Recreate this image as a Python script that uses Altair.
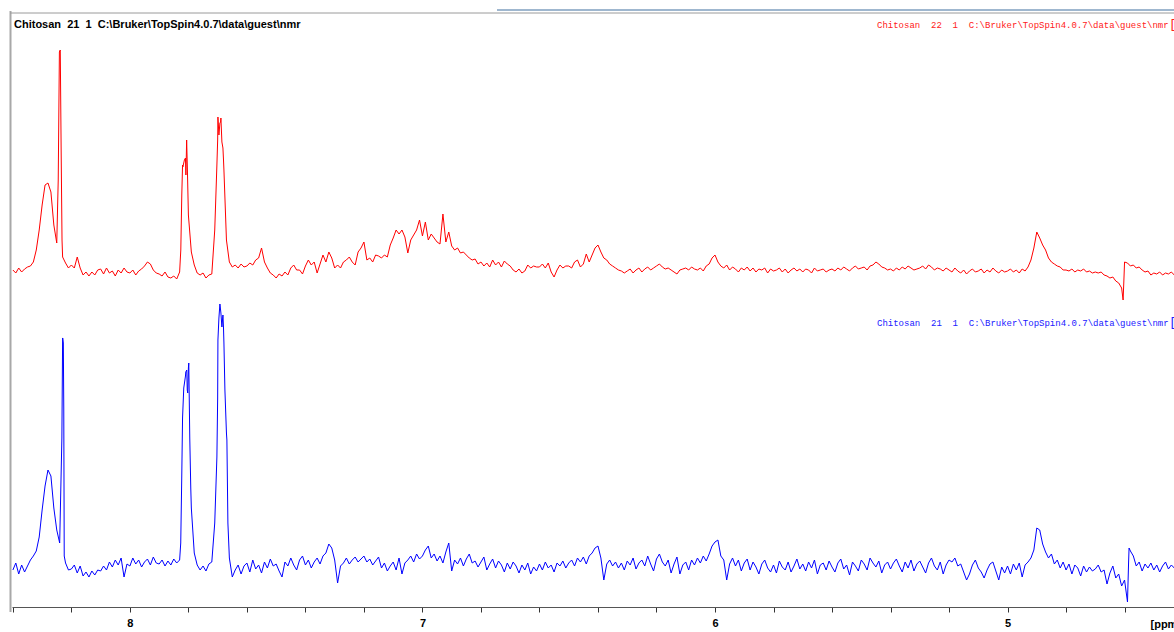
import altair as alt
import numpy as np
import pandas as pd

# ---- spectrum data (intensity above each trace's own baseline), ppm grid 8.40 -> 4.43 step 0.01
PPM_START = 8.40
PPM_STEP = 0.01

red_grid = [
    0, -3, 2, -2, 1, 3, 4, 8, 20, 40,
    65, 85, 87, 78, 45, 27, 219, 13, 7, 2,
    5, 2, 13, 2, -5, -2, -6, -2, -5, 0,
    1, -4, 2, -3, -1, -6, 0, -3, 2, -2,
    -3, 0, -5, -1, 1, 4, 8, 6, 0, -3,
    -4, -6, -2, -7, -8, -6, -9, -2, 105, 112,
    55, 18, 5, -3, -5, -3, -8, -5, -4, 40,
    130, 148, 110, 30, 8, 3, 5, 2, 6, 3,
    4, 7, 5, 10, 12, 22, 8, 2, -3, -5,
    -8, -4, -6, -2, -5, 2, 5, 0, 0, -4,
    4, 10, 5, 8, -3, 6, 15, 8, 18, 12,
    2, 5, 2, 8, 10, 13, 8, 5, 18, 22,
    28, 10, 12, 8, 15, 14, 12, 15, 13, 25,
    32, 40, 36, 40, 33, 17, 30, 35, 40, 50,
    34, 48, 30, 36, 32, 28, 26, 56, 28, 38,
    24, 20, 22, 17, 18, 15, 12, 10, 11, 6,
    8, 4, 7, 3, 10, 5, 8, 3, 9, 6,
    4, 0, -2, 1, -3, -1, 5, 2, 4, 3,
    3, 6, 2, 7, -2, -7, 0, 5, 2, 4,
    4, 2, 8, 10, 3, 6, 16, 8, 15, 22,
    25, 18, 12, 10, 6, 4, 2, 0, -1, -3,
    -1, 1, -3, 0, 2, -2, 1, 3, 0, 2,
    4, 6, 3, 1, 2, 0, -2, -4, 0, 1,
    2, 0, 3, 1, 0, 2, -1, 4, 6, 12,
    15, 8, 4, 2, 5, 0, 3, 1, -2, 2,
    0, 3, -1, 2, -2, 1, 0, 2, -3, 1,
    -1, 0, 2, -2, 1, -3, 0, 2, -1, 1,
    -2, 1, 0, -3, 2, -1, 0, 1, -2, 0,
    1, -1, 2, 0, 3, 1, -1, 2, 4, 1,
    2, 3, 0, 4, 5, 8, 6, 3, 2, 0,
    1, -1, 2, 0, 3, 1, 4, 2, 0, 1,
    2, 4, 1, 5, 3, 0, 2, 1, -1, 2,
    0, -2, 2, -1, -3, 0, -4, -1, 1, -2,
    -1, 1, -3, 0, -2, 2, -1, -3, 0, -2,
    -1, 1, -2, 0, -3, 1, -1, 3, 10, 22,
    38, 32, 25, 20, 12, 8, 6, 4, 3, 0,
    0, -1, 1, -2, 0, -1, 1, -2, -1, -3,
    -2, -3, -2, -5, -6, -8, -7, -11, -13, -18,
    8, 7, 4, 5, 2, 3, 0, -2, -1, -5,
    -3, -4, -2, -5, -3, -4, -2, -5,
]

red_extra_ppm = [8.245, 8.241, 8.238, 8.235, 8.232,
                 7.826, 7.8226, 7.819, 7.8137, 7.8085, 7.806, 7.8034,
                 7.7026, 7.6991, 7.6957, 7.6923, 7.6889, 7.6855, 7.682, 7.6786,
                 4.605, 4.602]
red_extra_int = [90, 218, 220, 120, 30,
                 20, 75, 103, 110, 95, 130, 100,
                 105, 153, 135, 147, 152, 128, 122, 100,
                 -30, -8]

blue_grid = [
    -2, 5, -6, 3, -4, 2, 8, 12, 17, 31,
    58, 82, 98, 92, 60, 38, 25, 230, 5, -2,
    -1, 3, -5, 2, -8, -4, -9, -3, -7, -2,
    -3, 2, -2, 6, 1, 8, 3, 10, -9, 4,
    2, 10, 4, 8, 1, 6, 9, 3, 11, 5,
    4, 8, 2, 7, 3, 9, 5, 8, 150, 192,
    200, 60, 15, 3, -2, 2, -3, 4, 6, 45,
    170, 258, 240, 135, 10, -9, -2, 3, -6, 2,
    5, -4, 8, -1, 3, -5, 6, 0, 9, 2,
    4, -3, -9, 6, 2, 10, 3, -2, 8, 12,
    3, 8, 0, 6, 10, 4, 12, 15, 24, 20,
    8, -15, 2, 5, 10, 4, 8, 11, 6, 9,
    12, 6, 9, 3, 7, 11, 0, 5, -3, 2,
    6, -2, 10, -6, 5, 8, 12, 6, 14, 9,
    12, 18, 22, 10, 14, 7, 12, 5, 16, 25,
    -3, 8, 4, 10, 2, 9, 14, 5, 7, 1,
    6, 11, -2, 4, 9, 0, 7, 3, -4, 5,
    -1, 6, 2, -5, 3, -2, 5, -6, 1, -3,
    4, -2, 6, 0, 3, -4, 5, 2, 7, 0,
    5, 8, 2, 10, 6, 11, 4, 12, 15, 20,
    22, 10, -12, 4, 8, 2, 6, 0, 5, -2,
    7, 3, 10, -1, 5, 8, 2, 12, 4, -3,
    9, 14, 6, 2, 8, -5, 4, 11, -6, 3,
    6, -2, 8, 3, 10, 5, 12, 7, 14, 22,
    26, 28, 12, 8, -12, 4, 10, 2, 8, -3,
    5, 9, -2, 6, 1, -6, 4, 8, 0, -4,
    3, -5, 7, 1, -2, 6, -4, 2, 9, -1,
    4, -3, 6, 0, 8, -6, 3, 5, -2, 7,
    1, -4, 5, 9, -1, 3, -7, 6, 2, -3,
    8, 4, -2, 10, 5, 1, 7, -5, 3, 6,
    -1, 5, 9, 2, -4, 6, 0, 8, -3, 4,
    7, 1, -5, 5, 10, 2, -2, 6, -6, 3,
    8, 6, 10, 2, 4, -4, -12, -6, 3, 8,
    0, -4, -10, -2, 4, 6, -3, -12, 1, -5,
    2, -6, 4, -2, 5, -9, 3, 6, 10, 18,
    40, 38, 24, 16, 10, 14, 4, 8, 0, 6,
    -2, 4, -6, 3, 0, -8, 2, -4, 1, -3,
    -1, 3, -4, -2, -16, -5, 2, -10, -6, -18,
    -12, -34, 17, 12, 2, 6, -3, 4, 0, 5,
    -2, 3, -4, 2, 6, -1, 3, 0,
]

blue_extra_ppm = [8.2325, 8.2295, 8.2275, 8.226, 8.2245,
                  7.8262, 7.8228, 7.8159, 7.809, 7.8056, 7.8039, 7.8022, 7.7987, 7.7953, 7.7919,
                  7.7026, 7.6991, 7.6957, 7.6923, 7.6889, 7.6855, 7.682, 7.6786, 7.6752, 7.6684, 7.665,
                  4.5863, 4.5846]
blue_extra_int = [130, 230, 225, 160, 12,
                  25, 90, 180, 196, 198, 178, 175, 205, 130, 80,
                  111, 228, 250, 264, 255, 241, 253, 225, 178, 128, 45,
                  5, 20]

axis_ticks = [8.4, 8.2, 8.0, 7.8, 7.6, 7.4, 7.2, 7.0, 6.8, 6.6, 6.4, 6.2, 6.0,
              5.8, 5.6, 5.4, 5.2, 5.0, 4.8, 4.6]

NB2 = "\u00a0\u00a0"
title_black = NB2.join(["Chitosan", "21", "1", r"C:\Bruker\TopSpin4.0.7\data\guest\nmr"])
label_red = NB2.join(["Chitosan", "22", "1", r"C:\Bruker\TopSpin4.0.7\data\guest\nmr"])
label_blue = NB2.join(["Chitosan", "21", "1", r"C:\Bruker\TopSpin4.0.7\data\guest\nmr"])

RED_OFFSET = 337
BLUE_OFFSET = 39


def build(grid, ex_ppm, ex_int):
    ppm = np.round(PPM_START - PPM_STEP * np.arange(len(grid)), 4)
    df = pd.DataFrame({
        "ppm": np.concatenate([ppm, np.array(ex_ppm)]),
        "intensity": np.concatenate([np.array(grid, float), np.array(ex_int, float)]),
    })
    return df.sort_values("ppm", ascending=False).reset_index(drop=True)


red_df = build(red_grid, red_extra_ppm, red_extra_int)
blue_df = build(blue_grid, blue_extra_ppm, blue_extra_int)

x_enc = alt.X(
    "ppm:Q",
    scale=alt.Scale(domain=[4.431, 8.403], reverse=True, nice=False, zero=False),
    axis=alt.Axis(
        values=axis_ticks,
        labelExpr="abs(datum.value - round(datum.value)) < 0.001 ? format(datum.value, 'd') : ''",
        title="[ppm]",
        titleX=1138, titleY=17, titleAlign="left", titleBaseline="middle", titleAngle=0,
        titleFont="Liberation Sans", titleFontSize=11, titleFontWeight="bold", titleColor="#000000",
        labelFont="Liberation Sans", labelFontSize=11, labelFontWeight="bold", labelColor="#000000",
        labelPadding=5, tickSize=5, tickColor="#333333", domainColor="#555555",
        grid=False, labelFlush=False, labelOverlap=False,
    ),
)
y_scale = alt.Scale(domain=[0, 595], nice=False, zero=False)

red_line = alt.Chart(red_df).transform_calculate(
    yplot=f"datum.intensity + {RED_OFFSET}"
).mark_line(color="#ff0000", strokeWidth=1, clip=True).encode(
    x=x_enc, y=alt.Y("yplot:Q", scale=y_scale, axis=None)
)

blue_line = alt.Chart(blue_df).transform_calculate(
    yplot=f"datum.intensity + {BLUE_OFFSET}"
).mark_line(color="#0000ff", strokeWidth=1, clip=True).encode(
    x=x_enc, y=alt.Y("yplot:Q", scale=y_scale, axis=None)
)

one = pd.DataFrame({"a": [0]})


def text_layer(txt, x, y, color, font, size, weight="normal", align="left"):
    return alt.Chart(pd.DataFrame({"t": [txt]})).mark_text(
        align=align, baseline="middle", font=font, fontSize=size, fontWeight=weight, color=color
    ).encode(x=alt.value(x), y=alt.value(y), text="t:N")


t_black = text_layer(title_black, 2, 13, "#000000", "Liberation Sans", 11, "bold")
t_red = text_layer(label_red, 865, 13, "#ff2020", "Liberation Mono", 9)
t_blue = text_layer(label_blue, 865, 311, "#2020ff", "Liberation Mono", 9)
br_red = text_layer("[", 1157, 12, "#ff2020", "Liberation Mono", 13)
br_blue = text_layer("[", 1157, 310, "#2020ff", "Liberation Mono", 13)

left_border = alt.Chart(one).mark_rule(color="#a8a8a8", strokeWidth=2).encode(
    x=alt.value(-1.5), y=alt.value(-1), y2=alt.value(600)
)
top_border = alt.Chart(one).mark_rule(color="#9a9a9a", strokeWidth=1).encode(
    x=alt.value(-2), x2=alt.value(1162), y=alt.value(1)
)
top_blue = alt.Chart(one).mark_rule(color="#7f9fbf", strokeWidth=1.5).encode(
    x=alt.value(485), x2=alt.value(1162), y=alt.value(-2)
)

chart = alt.layer(
    left_border, top_border, top_blue,
    red_line, blue_line,
    t_black, t_red, t_blue, br_red, br_blue,
).properties(
    width=1162, height=595,
    autosize=alt.AutoSizeParams(type="none"),
    padding={"left": 12, "top": 12, "right": 0, "bottom": 25},
    background="#ffffff",
).configure_view(stroke=None)

chart.save("out.html", embed_options={"renderer": "svg", "actions": False})
